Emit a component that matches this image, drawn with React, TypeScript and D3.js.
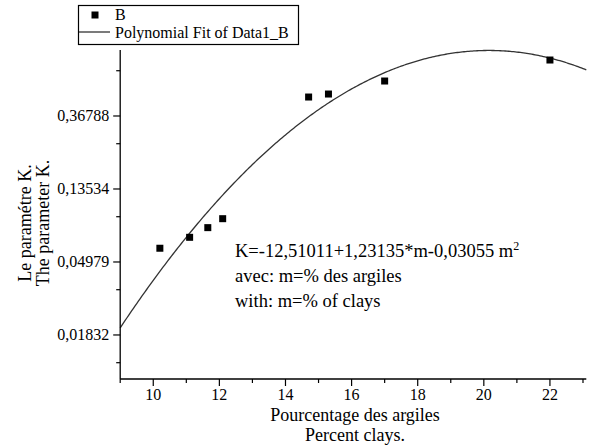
import React from "react";
import * as d3 from "d3";

const clayPercent = [10.2, 11.1, 11.65, 12.1, 14.7, 15.3, 17.0, 22.0];
const paramK = [0.0601, 0.0698, 0.0797, 0.0901, 0.477, 0.497, 0.594, 0.792];
const fitCoefs = [-12.51011, 1.23135, -0.03055];
const xTicks = [10, 12, 14, 16, 18, 20, 22];
const xMinorTicks = [9, 11, 13, 15, 17, 19, 21, 23];
const yTicks = [0.01832, 0.04979, 0.13534, 0.36788];
const yTickLabels = ["0,01832", "0,04979", "0,13534", "0,36788"];
const yMinorTicks = [0.01253, 0.034055, 0.092565, 0.25161, 0.68394];

const W = 591;
const H = 446;
const FONT = "'Liberation Serif', 'Times New Roman', serif";

export default function App() {
  const x = d3.scaleLinear().domain([9, 23.1]).range([120.2, 586.3]);
  const y = d3.scaleLog().base(Math.E).domain([Math.exp(-4.603), Math.exp(-0.096)]).range([379, 50]);
  const fitX = d3.range(9, 23.1001, 0.05);
  const fitPts: [number, number][] = fitX.map((m) => [m, Math.exp(fitCoefs[0] + fitCoefs[1] * m + fitCoefs[2] * m * m)]);
  const line = d3.line<[number, number]>().x((d) => x(d[0])).y((d) => y(d[1])).curve(d3.curveLinear);
  const x0 = x(9);
  const yb = y.range()[0];

  return (
    <svg width={W} height={H} style={{ position: "absolute", left: 0, top: 0, background: "#fff" }} fontFamily={FONT}>
      <rect width={W} height={H} fill="#fff" />
      {/* fit curve */}
      <path d={line(fitPts) || ""} fill="none" stroke="#333" strokeWidth={1.3} />
      {/* points */}
      {clayPercent.map((m, i) => (
        <rect key={i} x={x(m) - 3.5} y={y(paramK[i]) - 3.5} width={7} height={7} fill="#000" />
      ))}
      {/* axes */}
      <line x1={x0} x2={x0} y1={50} y2={yb} stroke="#000" strokeWidth={1.3} />
      <line x1={x0} x2={x(23.1)} y1={yb} y2={yb} stroke="#000" strokeWidth={1.3} />
      {yTicks.map((t, i) => (
        <g key={t}>
          <line x1={x0 - 7} x2={x0} y1={y(t)} y2={y(t)} stroke="#000" strokeWidth={1.2} />
          <text x={x0 - 11} y={y(t) + 5} fontSize={16} textAnchor="end" fill="#000">{yTickLabels[i]}</text>
        </g>
      ))}
      {yMinorTicks.map((t) => (
        <line key={t} x1={x0 - 4} x2={x0} y1={y(t)} y2={y(t)} stroke="#000" strokeWidth={1.2} />
      ))}
      {xTicks.map((t) => (
        <g key={t}>
          <line x1={x(t)} x2={x(t)} y1={yb} y2={yb + 7} stroke="#000" strokeWidth={1.2} />
          <text x={x(t)} y={yb + 21} fontSize={16} textAnchor="middle" fill="#000">{t}</text>
        </g>
      ))}
      {xMinorTicks.map((t) => (
        <line key={t} x1={x(t)} x2={x(t)} y1={yb} y2={yb + 4} stroke="#000" strokeWidth={1.2} />
      ))}
      {/* axis titles */}
      <text x={355} y={421} fontSize={18} textAnchor="middle" fill="#000">Pourcentage des argiles</text>
      <text x={355} y={440.5} fontSize={18} textAnchor="middle" fill="#000">Percent clays.</text>
      <g transform="translate(31,223) rotate(-90)">
        <text x={0} y={0} fontSize={18} textAnchor="middle" fill="#000">Le paramétre K.</text>
        <text x={0} y={17.5} fontSize={18} textAnchor="middle" fill="#000">The parameter K.</text>
      </g>
      {/* equation */}
      <text x={235} y={257} fontSize={18.5} fill="#000">
        K=-12,51011+1,23135*m-0,03055 m<tspan dy={-7} fontSize={12}>2</tspan>
      </text>
      <text x={235} y={282} fontSize={18.5} fill="#000">avec: m=% des argiles</text>
      <text x={235} y={307} fontSize={18.5} fill="#000">with: m=% of clays</text>
      {/* legend */}
      <rect x={78.5} y={5.5} width={220} height={39} fill="#fff" stroke="#000" strokeWidth={1.2} />
      <rect x={91.5} y={11.5} width={7} height={7} fill="#000" />
      <text x={115} y={20} fontSize={16} fill="#000">B</text>
      <line x1={79} x2={110} y1={32} y2={32} stroke="#333" strokeWidth={1.3} />
      <text x={115} y={38} fontSize={16} fill="#000">Polynomial Fit of Data1_B</text>
    </svg>
  );
}
